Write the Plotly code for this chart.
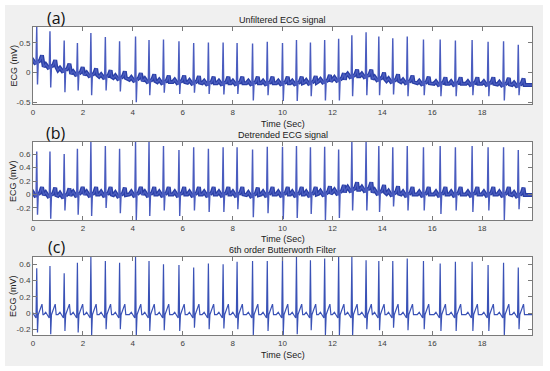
import plotly.graph_objects as go
from plotly.subplots import make_subplots

# ---- data ----
beat_t = [0.15, 0.68, 1.25, 1.78, 2.32, 2.90, 3.47, 4.11, 4.65, 5.23, 5.85, 6.44, 7.03, 7.62, 8.18, 8.80, 9.39,
          10.00, 10.56, 11.12, 11.69, 12.25, 12.78, 13.35, 13.86, 14.42, 15.00, 15.65, 16.32, 16.93, 17.60, 18.24, 18.86, 19.45]

# (a) unfiltered: baseline, R peak and S trough (absolute mV)
base_a = [0.18, 0.10, 0.04, -0.02, -0.04, -0.07, -0.09, -0.12, -0.14, -0.16, -0.16, -0.17, -0.18, -0.18, -0.18, -0.18, -0.18,
          -0.18, -0.18, -0.17, -0.15, -0.12, -0.06, -0.06, -0.11, -0.14, -0.16, -0.18, -0.19, -0.19, -0.19, -0.19, -0.20, -0.21]
r_a = [0.78, 0.70, 0.54, 0.50, 0.67, 0.60, 0.53, 0.61, 0.55, 0.56, 0.53, 0.50, 0.51, 0.51, 0.50, 0.49, 0.52,
       0.50, 0.55, 0.51, 0.55, 0.57, 0.63, 0.68, 0.61, 0.58, 0.61, 0.56, 0.56, 0.54, 0.55, 0.52, 0.53, 0.47]
s_a = [-0.20, -0.25, -0.33, -0.30, -0.38, -0.30, -0.32, -0.50, -0.38, -0.34, -0.36, -0.34, -0.36, -0.37, -0.36, -0.47, -0.38,
       -0.48, -0.48, -0.40, -0.47, -0.47, -0.40, -0.38, -0.38, -0.37, -0.40, -0.38, -0.40, -0.40, -0.38, -0.40, -0.47, -0.38]

# (b) detrended
base_b = [0.00, -0.01, -0.02, 0.00, 0.00, 0.00, -0.01, 0.00, 0.00, 0.00, 0.00, 0.00, 0.00, 0.00, 0.00, -0.01, 0.00,
          0.00, 0.00, 0.00, 0.01, 0.03, 0.07, 0.07, 0.03, 0.01, 0.00, 0.00, 0.00, 0.00, 0.00, 0.00, 0.00, -0.01]
r_b = [0.64, 0.64, 0.60, 0.68, 0.78, 0.72, 0.68, 0.78, 0.78, 0.72, 0.66, 0.70, 0.68, 0.70, 0.70, 0.67, 0.71,
       0.71, 0.72, 0.70, 0.71, 0.67, 0.78, 0.78, 0.72, 0.70, 0.72, 0.70, 0.72, 0.70, 0.72, 0.70, 0.70, 0.66]
s_b = [-0.30, -0.36, -0.24, -0.30, -0.32, -0.20, -0.28, -0.38, -0.32, -0.24, -0.32, -0.24, -0.26, -0.26, -0.22, -0.34, -0.28,
       -0.37, -0.35, -0.29, -0.38, -0.35, -0.24, -0.24, -0.26, -0.18, -0.24, -0.24, -0.29, -0.24, -0.26, -0.24, -0.38, -0.22]

# (c) 6th order Butterworth filtered
r_c = [0.55, 0.58, 0.49, 0.62, 0.69, 0.64, 0.62, 0.69, 0.64, 0.60, 0.59, 0.56, 0.61, 0.60, 0.63, 0.64, 0.64,
       0.69, 0.69, 0.65, 0.67, 0.69, 0.69, 0.65, 0.64, 0.64, 0.67, 0.64, 0.61, 0.63, 0.63, 0.59, 0.62, 0.56]
s_c = [-0.24, -0.26, -0.22, -0.24, -0.28, -0.20, -0.20, -0.28, -0.22, -0.21, -0.22, -0.18, -0.20, -0.19, -0.20, -0.27, -0.22,
       -0.27, -0.26, -0.21, -0.27, -0.27, -0.28, -0.20, -0.21, -0.18, -0.21, -0.20, -0.22, -0.22, -0.22, -0.22, -0.28, -0.20]

# one heartbeat: knot offsets (s) and wave height above baseline (mV); R and S come from the arrays above
beat_dt = [-0.25, -0.17, -0.10, -0.03, 0.0, 0.03, 0.06, 0.14, 0.21, 0.25]
wave_a = [0.0, 0.04, 0.0, -0.04, None, None, 0.0, 0.03, 0.11, 0.0]
wave_b = [0.0, 0.04, 0.0, -0.04, None, None, 0.0, 0.03, 0.11, 0.0]
wave_c = [-0.02, 0.01, -0.02, -0.06, None, None, -0.02, 0.04, 0.11, -0.02]
record_end = 20.0
x_ticks = [0, 2, 4, 6, 8, 10, 12, 14, 16, 18]


def build(base, r, s, wave, with_qrs=True):
    xs, ys = [0.0], [base[0] + wave[0]]
    for i, t in enumerate(beat_t):
        for dt, w in zip(beat_dt, wave):
            xs.append(t + dt)
            if dt == 0.0:
                ys.append(r[i] if with_qrs else None)
            elif dt == 0.03:
                ys.append(s[i] if with_qrs else None)
            else:
                ys.append(base[i] + w)
    xs.append(record_end)
    ys.append(base[-1] + wave[-1])
    return xs, ys


zeros = [0.0] * len(beat_t)
xa, ya = build(base_a, r_a, s_a, wave_a)
xa2, ya2 = build(base_a, r_a, s_a, wave_a, with_qrs=False)
xb, yb = build(base_b, r_b, s_b, wave_b)
xb2, yb2 = build(base_b, r_b, s_b, wave_b, with_qrs=False)
xc, yc = build(zeros, r_c, s_c, wave_c)

spike_col = "#4a5cbf"
band_col = "#2a3fa6"
fig = make_subplots(rows=3, cols=1)
fig.add_trace(go.Scatter(x=xa2, y=ya2, mode="lines", connectgaps=False,
                         line=dict(color=band_col, width=4)), row=1, col=1)
fig.add_trace(go.Scatter(x=xa, y=ya, mode="lines", line=dict(color=spike_col, width=1.4)), row=1, col=1)
fig.add_trace(go.Scatter(x=xb2, y=yb2, mode="lines", connectgaps=False,
                         line=dict(color=band_col, width=4)), row=2, col=1)
fig.add_trace(go.Scatter(x=xb, y=yb, mode="lines", line=dict(color=spike_col, width=1.4)), row=2, col=1)
fig.add_trace(go.Scatter(x=xc, y=yc, mode="lines", line=dict(color="#3a52b6", width=1.2)), row=3, col=1)

W, H = 550, 371
L, R, T, B = 33, 18, 27, 36
ph = H - T - B
pw = W - L - R


def py(p):
    return 1 - (p - T) / ph


def px(p):
    return (p - L) / pw


doms = [(py(104), py(27)), (py(220), py(142)), (py(335), py(257))]
yranges = [(-0.53, 0.77), (-0.38, 0.78), (-0.27, 0.69)]
ytick_sets = [[-0.5, 0, 0.5], [-0.2, 0, 0.2, 0.4, 0.6], [-0.2, 0, 0.2, 0.4, 0.6]]
axcol = "#7a7a7a"
tickfont = dict(family="Liberation Sans, Arial", size=8, color="#404040")
for i in range(3):
    fig.update_xaxes(row=i + 1, col=1, range=[0, record_end], tickvals=x_ticks, ticks="inside", ticklen=4,
                     tickcolor=axcol, showline=True, linecolor=axcol, linewidth=1, mirror="ticks",
                     showgrid=False, zeroline=False, tickfont=tickfont)
    fig.update_yaxes(row=i + 1, col=1, domain=list(doms[i]), range=list(yranges[i]), tickvals=ytick_sets[i],
                     ticktext=[("%g" % v) for v in ytick_sets[i]], ticks="inside", ticklen=4,
                     tickcolor=axcol, showline=True, linecolor=axcol, linewidth=1, mirror="ticks",
                     showgrid=False, zeroline=False, tickfont=tickfont)

titles = ["Unfiltered ECG signal", "Detrended ECG signal", "6th order Butterworth Filter"]
title_py = [20, 135, 250]
xlab_py = [124, 239, 355]
lab_py = [18, 133, 247]
ycent = [65.5, 181, 296]
letters = ["(a)", "(b)", "(c)"]
txt = dict(family="Liberation Sans, Arial", size=9, color="#202020")
ann = []
for i in range(3):
    ann.append(dict(text=titles[i], x=0.5, y=py(title_py[i]), xref="paper", yref="paper",
                    showarrow=False, font=txt, xanchor="center", yanchor="middle"))
    ann.append(dict(text="Time (Sec)", x=0.5, y=py(xlab_py[i]), xref="paper", yref="paper",
                    showarrow=False, font=txt, xanchor="center", yanchor="middle"))
    ann.append(dict(text="ECG (mV)", x=px(13), y=py(ycent[i]), xref="paper", yref="paper", textangle=-90,
                    showarrow=False, font=txt, xanchor="center", yanchor="middle"))
    ann.append(dict(text=letters[i], x=px(56), y=py(lab_py[i]), xref="paper", yref="paper",
                    showarrow=False, font=dict(family="Open Sans", size=16, color="#111111"),
                    xanchor="center", yanchor="middle"))

shapes = []
for (x0, y0, x1, y1) in [(0, 0, 5, H), (543, 0, W, H), (0, 0, W, 5), (0, 366, W, H)]:
    shapes.append(dict(type="rect", xref="paper", yref="paper", x0=px(x0), x1=px(x1), y0=py(y1), y1=py(y0),
                       fillcolor="white", line=dict(width=0), layer="above"))

fig.update_layout(width=W, height=H, margin=dict(l=L, r=R, t=T, b=B), showlegend=False,
                  paper_bgcolor="#f0f0f0", plot_bgcolor="white", annotations=ann, shapes=shapes)
fig.write_html("out.html", config={"displayModeBar": False},
               post_script="document.body.style.margin='0';")
